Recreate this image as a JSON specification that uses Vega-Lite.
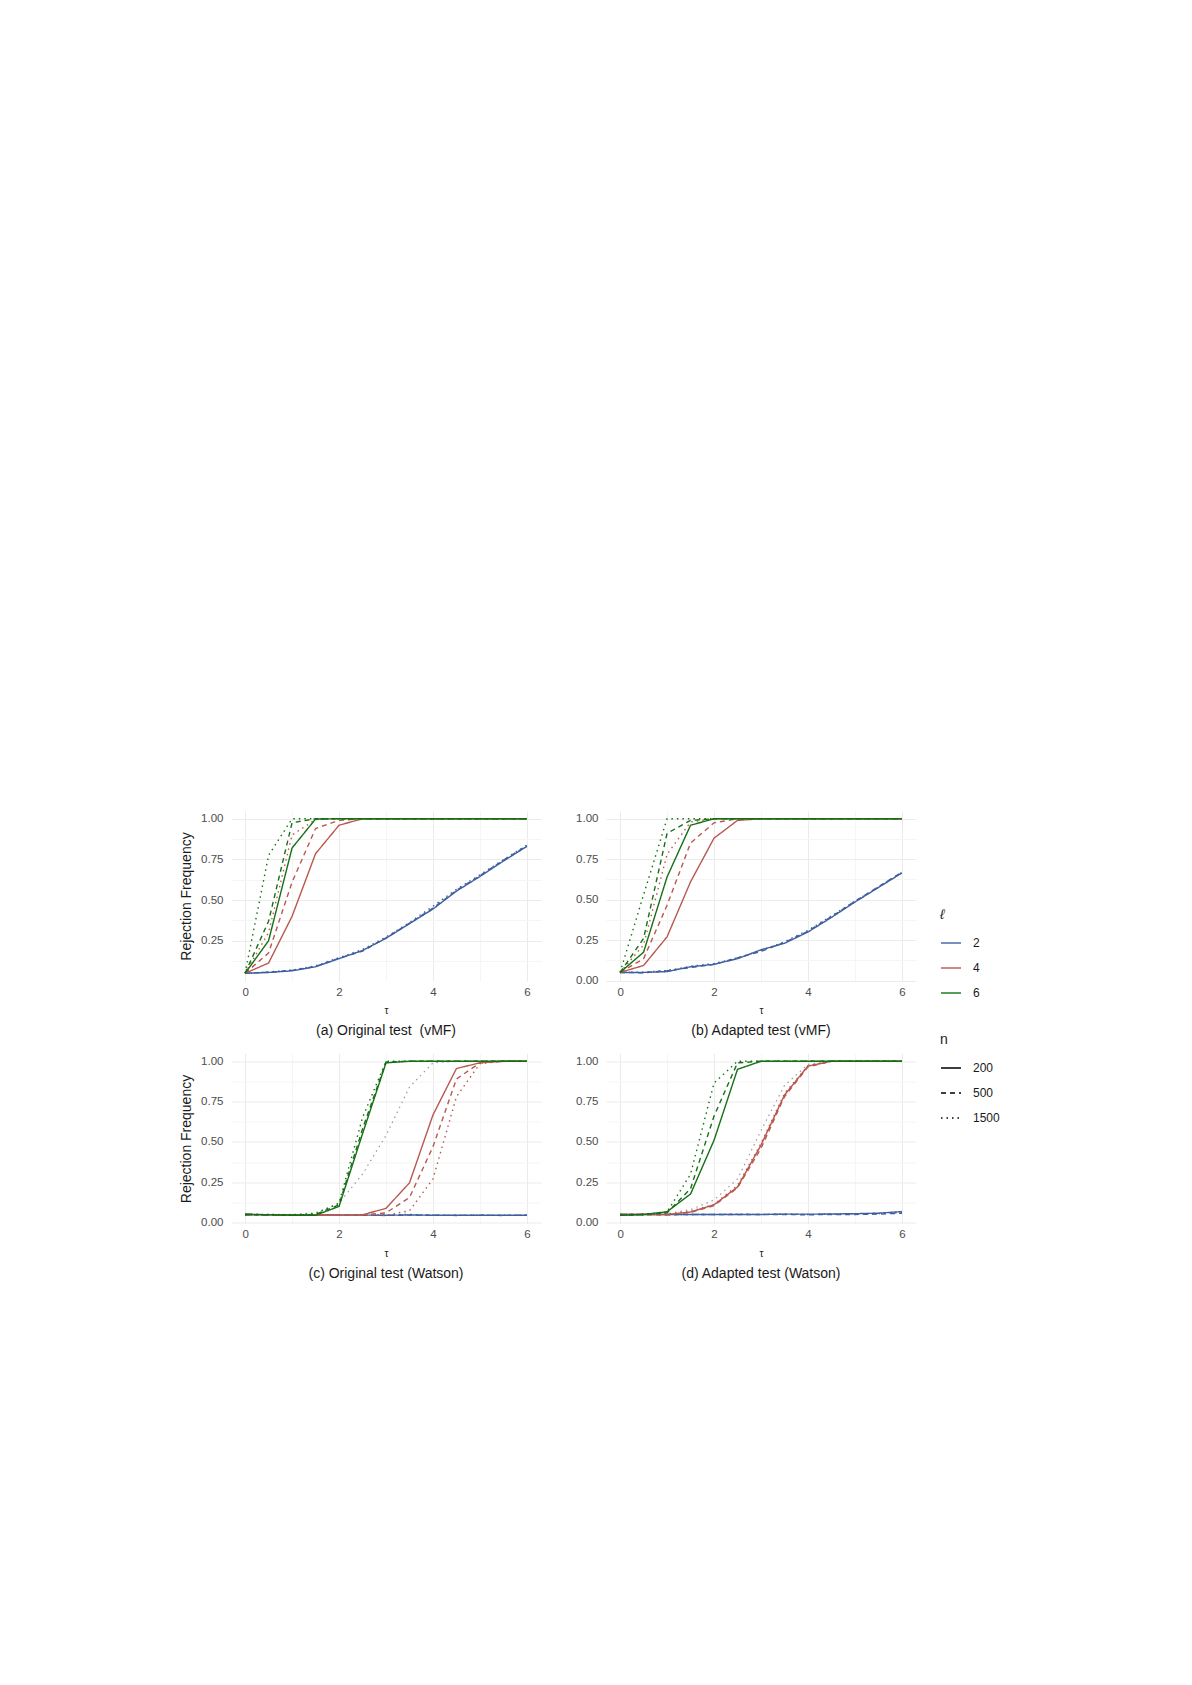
{
  "$schema": "https://vega.github.io/schema/vega-lite/v6.json",
  "background": "white",
  "padding": {"left": 179, "top": 811, "right": 10, "bottom": 10},
  "data": {
    "values": [
      {"p": "a", "l": "2", "n": "200", "t": 0, "v": 0.05}, {"p": "a", "l": "2", "n": "200", "t": 0.5, "v": 0.055}, {"p": "a", "l": "2", "n": "200", "t": 1, "v": 0.065}, {"p": "a", "l": "2", "n": "200", "t": 1.5, "v": 0.09}, {"p": "a", "l": "2", "n": "200", "t": 2, "v": 0.14}, {"p": "a", "l": "2", "n": "200", "t": 2.5, "v": 0.19}, {"p": "a", "l": "2", "n": "200", "t": 3, "v": 0.265}, {"p": "a", "l": "2", "n": "200", "t": 3.5, "v": 0.355}, {"p": "a", "l": "2", "n": "200", "t": 4, "v": 0.445}, {"p": "a", "l": "2", "n": "200", "t": 4.5, "v": 0.555}, {"p": "a", "l": "2", "n": "200", "t": 5, "v": 0.645}, {"p": "a", "l": "2", "n": "200", "t": 5.5, "v": 0.74}, {"p": "a", "l": "2", "n": "200", "t": 6, "v": 0.83},
      {"p": "a", "l": "2", "n": "500", "t": 0, "v": 0.05}, {"p": "a", "l": "2", "n": "500", "t": 0.5, "v": 0.056}, {"p": "a", "l": "2", "n": "500", "t": 1, "v": 0.068}, {"p": "a", "l": "2", "n": "500", "t": 1.5, "v": 0.092}, {"p": "a", "l": "2", "n": "500", "t": 2, "v": 0.143}, {"p": "a", "l": "2", "n": "500", "t": 2.5, "v": 0.186}, {"p": "a", "l": "2", "n": "500", "t": 3, "v": 0.268}, {"p": "a", "l": "2", "n": "500", "t": 3.5, "v": 0.358}, {"p": "a", "l": "2", "n": "500", "t": 4, "v": 0.45}, {"p": "a", "l": "2", "n": "500", "t": 4.5, "v": 0.56}, {"p": "a", "l": "2", "n": "500", "t": 5, "v": 0.65}, {"p": "a", "l": "2", "n": "500", "t": 5.5, "v": 0.745}, {"p": "a", "l": "2", "n": "500", "t": 6, "v": 0.835},
      {"p": "a", "l": "2", "n": "1500", "t": 0, "v": 0.05}, {"p": "a", "l": "2", "n": "1500", "t": 0.5, "v": 0.058}, {"p": "a", "l": "2", "n": "1500", "t": 1, "v": 0.07}, {"p": "a", "l": "2", "n": "1500", "t": 1.5, "v": 0.096}, {"p": "a", "l": "2", "n": "1500", "t": 2, "v": 0.146}, {"p": "a", "l": "2", "n": "1500", "t": 2.5, "v": 0.196}, {"p": "a", "l": "2", "n": "1500", "t": 3, "v": 0.272}, {"p": "a", "l": "2", "n": "1500", "t": 3.5, "v": 0.362}, {"p": "a", "l": "2", "n": "1500", "t": 4, "v": 0.462}, {"p": "a", "l": "2", "n": "1500", "t": 4.5, "v": 0.566}, {"p": "a", "l": "2", "n": "1500", "t": 5, "v": 0.655}, {"p": "a", "l": "2", "n": "1500", "t": 5.5, "v": 0.748}, {"p": "a", "l": "2", "n": "1500", "t": 6, "v": 0.838},
      {"p": "a", "l": "4", "n": "200", "t": 0, "v": 0.05}, {"p": "a", "l": "4", "n": "200", "t": 0.5, "v": 0.113}, {"p": "a", "l": "4", "n": "200", "t": 1, "v": 0.4}, {"p": "a", "l": "4", "n": "200", "t": 1.5, "v": 0.785}, {"p": "a", "l": "4", "n": "200", "t": 2, "v": 0.96}, {"p": "a", "l": "4", "n": "200", "t": 2.5, "v": 1}, {"p": "a", "l": "4", "n": "200", "t": 3, "v": 1}, {"p": "a", "l": "4", "n": "200", "t": 3.5, "v": 1}, {"p": "a", "l": "4", "n": "200", "t": 4, "v": 1}, {"p": "a", "l": "4", "n": "200", "t": 4.5, "v": 1}, {"p": "a", "l": "4", "n": "200", "t": 5, "v": 1}, {"p": "a", "l": "4", "n": "200", "t": 5.5, "v": 1}, {"p": "a", "l": "4", "n": "200", "t": 6, "v": 1},
      {"p": "a", "l": "4", "n": "500", "t": 0, "v": 0.05}, {"p": "a", "l": "4", "n": "500", "t": 0.5, "v": 0.175}, {"p": "a", "l": "4", "n": "500", "t": 1, "v": 0.61}, {"p": "a", "l": "4", "n": "500", "t": 1.5, "v": 0.94}, {"p": "a", "l": "4", "n": "500", "t": 2, "v": 0.99}, {"p": "a", "l": "4", "n": "500", "t": 2.5, "v": 1}, {"p": "a", "l": "4", "n": "500", "t": 3, "v": 1}, {"p": "a", "l": "4", "n": "500", "t": 3.5, "v": 1}, {"p": "a", "l": "4", "n": "500", "t": 4, "v": 1}, {"p": "a", "l": "4", "n": "500", "t": 4.5, "v": 1}, {"p": "a", "l": "4", "n": "500", "t": 5, "v": 1}, {"p": "a", "l": "4", "n": "500", "t": 5.5, "v": 1}, {"p": "a", "l": "4", "n": "500", "t": 6, "v": 1},
      {"p": "a", "l": "4", "n": "1500", "t": 0, "v": 0.05}, {"p": "a", "l": "4", "n": "1500", "t": 0.5, "v": 0.3}, {"p": "a", "l": "4", "n": "1500", "t": 1, "v": 0.9}, {"p": "a", "l": "4", "n": "1500", "t": 1.5, "v": 0.995}, {"p": "a", "l": "4", "n": "1500", "t": 2, "v": 1}, {"p": "a", "l": "4", "n": "1500", "t": 2.5, "v": 1}, {"p": "a", "l": "4", "n": "1500", "t": 3, "v": 1}, {"p": "a", "l": "4", "n": "1500", "t": 3.5, "v": 1}, {"p": "a", "l": "4", "n": "1500", "t": 4, "v": 1}, {"p": "a", "l": "4", "n": "1500", "t": 4.5, "v": 1}, {"p": "a", "l": "4", "n": "1500", "t": 5, "v": 1}, {"p": "a", "l": "4", "n": "1500", "t": 5.5, "v": 1}, {"p": "a", "l": "4", "n": "1500", "t": 6, "v": 1},
      {"p": "a", "l": "6", "n": "200", "t": 0, "v": 0.05}, {"p": "a", "l": "6", "n": "200", "t": 0.5, "v": 0.25}, {"p": "a", "l": "6", "n": "200", "t": 1, "v": 0.82}, {"p": "a", "l": "6", "n": "200", "t": 1.5, "v": 0.998}, {"p": "a", "l": "6", "n": "200", "t": 2, "v": 1}, {"p": "a", "l": "6", "n": "200", "t": 2.5, "v": 1}, {"p": "a", "l": "6", "n": "200", "t": 3, "v": 1}, {"p": "a", "l": "6", "n": "200", "t": 3.5, "v": 1}, {"p": "a", "l": "6", "n": "200", "t": 4, "v": 1}, {"p": "a", "l": "6", "n": "200", "t": 4.5, "v": 1}, {"p": "a", "l": "6", "n": "200", "t": 5, "v": 1}, {"p": "a", "l": "6", "n": "200", "t": 5.5, "v": 1}, {"p": "a", "l": "6", "n": "200", "t": 6, "v": 1},
      {"p": "a", "l": "6", "n": "500", "t": 0, "v": 0.05}, {"p": "a", "l": "6", "n": "500", "t": 0.5, "v": 0.37}, {"p": "a", "l": "6", "n": "500", "t": 1, "v": 0.975}, {"p": "a", "l": "6", "n": "500", "t": 1.5, "v": 1}, {"p": "a", "l": "6", "n": "500", "t": 2, "v": 1}, {"p": "a", "l": "6", "n": "500", "t": 2.5, "v": 1}, {"p": "a", "l": "6", "n": "500", "t": 3, "v": 1}, {"p": "a", "l": "6", "n": "500", "t": 3.5, "v": 1}, {"p": "a", "l": "6", "n": "500", "t": 4, "v": 1}, {"p": "a", "l": "6", "n": "500", "t": 4.5, "v": 1}, {"p": "a", "l": "6", "n": "500", "t": 5, "v": 1}, {"p": "a", "l": "6", "n": "500", "t": 5.5, "v": 1}, {"p": "a", "l": "6", "n": "500", "t": 6, "v": 1},
      {"p": "a", "l": "6", "n": "1500", "t": 0, "v": 0.05}, {"p": "a", "l": "6", "n": "1500", "t": 0.5, "v": 0.775}, {"p": "a", "l": "6", "n": "1500", "t": 1, "v": 1}, {"p": "a", "l": "6", "n": "1500", "t": 1.5, "v": 1}, {"p": "a", "l": "6", "n": "1500", "t": 2, "v": 1}, {"p": "a", "l": "6", "n": "1500", "t": 2.5, "v": 1}, {"p": "a", "l": "6", "n": "1500", "t": 3, "v": 1}, {"p": "a", "l": "6", "n": "1500", "t": 3.5, "v": 1}, {"p": "a", "l": "6", "n": "1500", "t": 4, "v": 1}, {"p": "a", "l": "6", "n": "1500", "t": 4.5, "v": 1}, {"p": "a", "l": "6", "n": "1500", "t": 5, "v": 1}, {"p": "a", "l": "6", "n": "1500", "t": 5.5, "v": 1}, {"p": "a", "l": "6", "n": "1500", "t": 6, "v": 1},

      {"p": "b", "l": "2", "n": "200", "t": 0, "v": 0.05}, {"p": "b", "l": "2", "n": "200", "t": 0.5, "v": 0.05}, {"p": "b", "l": "2", "n": "200", "t": 1, "v": 0.055}, {"p": "b", "l": "2", "n": "200", "t": 1.5, "v": 0.085}, {"p": "b", "l": "2", "n": "200", "t": 2, "v": 0.1}, {"p": "b", "l": "2", "n": "200", "t": 2.5, "v": 0.135}, {"p": "b", "l": "2", "n": "200", "t": 3, "v": 0.19}, {"p": "b", "l": "2", "n": "200", "t": 3.5, "v": 0.23}, {"p": "b", "l": "2", "n": "200", "t": 4, "v": 0.3}, {"p": "b", "l": "2", "n": "200", "t": 4.5, "v": 0.39}, {"p": "b", "l": "2", "n": "200", "t": 5, "v": 0.485}, {"p": "b", "l": "2", "n": "200", "t": 5.5, "v": 0.575}, {"p": "b", "l": "2", "n": "200", "t": 6, "v": 0.665},
      {"p": "b", "l": "2", "n": "500", "t": 0, "v": 0.05}, {"p": "b", "l": "2", "n": "500", "t": 0.5, "v": 0.048}, {"p": "b", "l": "2", "n": "500", "t": 1, "v": 0.06}, {"p": "b", "l": "2", "n": "500", "t": 1.5, "v": 0.08}, {"p": "b", "l": "2", "n": "500", "t": 2, "v": 0.1}, {"p": "b", "l": "2", "n": "500", "t": 2.5, "v": 0.14}, {"p": "b", "l": "2", "n": "500", "t": 3, "v": 0.18}, {"p": "b", "l": "2", "n": "500", "t": 3.5, "v": 0.235}, {"p": "b", "l": "2", "n": "500", "t": 4, "v": 0.305}, {"p": "b", "l": "2", "n": "500", "t": 4.5, "v": 0.395}, {"p": "b", "l": "2", "n": "500", "t": 5, "v": 0.49}, {"p": "b", "l": "2", "n": "500", "t": 5.5, "v": 0.58}, {"p": "b", "l": "2", "n": "500", "t": 6, "v": 0.67},
      {"p": "b", "l": "2", "n": "1500", "t": 0, "v": 0.05}, {"p": "b", "l": "2", "n": "1500", "t": 0.5, "v": 0.052}, {"p": "b", "l": "2", "n": "1500", "t": 1, "v": 0.062}, {"p": "b", "l": "2", "n": "1500", "t": 1.5, "v": 0.088}, {"p": "b", "l": "2", "n": "1500", "t": 2, "v": 0.105}, {"p": "b", "l": "2", "n": "1500", "t": 2.5, "v": 0.14}, {"p": "b", "l": "2", "n": "1500", "t": 3, "v": 0.185}, {"p": "b", "l": "2", "n": "1500", "t": 3.5, "v": 0.24}, {"p": "b", "l": "2", "n": "1500", "t": 4, "v": 0.31}, {"p": "b", "l": "2", "n": "1500", "t": 4.5, "v": 0.4}, {"p": "b", "l": "2", "n": "1500", "t": 5, "v": 0.49}, {"p": "b", "l": "2", "n": "1500", "t": 5.5, "v": 0.578}, {"p": "b", "l": "2", "n": "1500", "t": 6, "v": 0.668},
      {"p": "b", "l": "4", "n": "200", "t": 0, "v": 0.05}, {"p": "b", "l": "4", "n": "200", "t": 0.5, "v": 0.093}, {"p": "b", "l": "4", "n": "200", "t": 1, "v": 0.27}, {"p": "b", "l": "4", "n": "200", "t": 1.5, "v": 0.61}, {"p": "b", "l": "4", "n": "200", "t": 2, "v": 0.88}, {"p": "b", "l": "4", "n": "200", "t": 2.5, "v": 0.99}, {"p": "b", "l": "4", "n": "200", "t": 3, "v": 1}, {"p": "b", "l": "4", "n": "200", "t": 3.5, "v": 1}, {"p": "b", "l": "4", "n": "200", "t": 4, "v": 1}, {"p": "b", "l": "4", "n": "200", "t": 4.5, "v": 1}, {"p": "b", "l": "4", "n": "200", "t": 5, "v": 1}, {"p": "b", "l": "4", "n": "200", "t": 5.5, "v": 1}, {"p": "b", "l": "4", "n": "200", "t": 6, "v": 1},
      {"p": "b", "l": "4", "n": "500", "t": 0, "v": 0.05}, {"p": "b", "l": "4", "n": "500", "t": 0.5, "v": 0.135}, {"p": "b", "l": "4", "n": "500", "t": 1, "v": 0.465}, {"p": "b", "l": "4", "n": "500", "t": 1.5, "v": 0.85}, {"p": "b", "l": "4", "n": "500", "t": 2, "v": 0.975}, {"p": "b", "l": "4", "n": "500", "t": 2.5, "v": 1}, {"p": "b", "l": "4", "n": "500", "t": 3, "v": 1}, {"p": "b", "l": "4", "n": "500", "t": 3.5, "v": 1}, {"p": "b", "l": "4", "n": "500", "t": 4, "v": 1}, {"p": "b", "l": "4", "n": "500", "t": 4.5, "v": 1}, {"p": "b", "l": "4", "n": "500", "t": 5, "v": 1}, {"p": "b", "l": "4", "n": "500", "t": 5.5, "v": 1}, {"p": "b", "l": "4", "n": "500", "t": 6, "v": 1},
      {"p": "b", "l": "4", "n": "1500", "t": 0, "v": 0.05}, {"p": "b", "l": "4", "n": "1500", "t": 0.5, "v": 0.22}, {"p": "b", "l": "4", "n": "1500", "t": 1, "v": 0.78}, {"p": "b", "l": "4", "n": "1500", "t": 1.5, "v": 0.98}, {"p": "b", "l": "4", "n": "1500", "t": 2, "v": 1}, {"p": "b", "l": "4", "n": "1500", "t": 2.5, "v": 1}, {"p": "b", "l": "4", "n": "1500", "t": 3, "v": 1}, {"p": "b", "l": "4", "n": "1500", "t": 3.5, "v": 1}, {"p": "b", "l": "4", "n": "1500", "t": 4, "v": 1}, {"p": "b", "l": "4", "n": "1500", "t": 4.5, "v": 1}, {"p": "b", "l": "4", "n": "1500", "t": 5, "v": 1}, {"p": "b", "l": "4", "n": "1500", "t": 5.5, "v": 1}, {"p": "b", "l": "4", "n": "1500", "t": 6, "v": 1},
      {"p": "b", "l": "6", "n": "200", "t": 0, "v": 0.05}, {"p": "b", "l": "6", "n": "200", "t": 0.5, "v": 0.175}, {"p": "b", "l": "6", "n": "200", "t": 1, "v": 0.64}, {"p": "b", "l": "6", "n": "200", "t": 1.5, "v": 0.96}, {"p": "b", "l": "6", "n": "200", "t": 2, "v": 1}, {"p": "b", "l": "6", "n": "200", "t": 2.5, "v": 1}, {"p": "b", "l": "6", "n": "200", "t": 3, "v": 1}, {"p": "b", "l": "6", "n": "200", "t": 3.5, "v": 1}, {"p": "b", "l": "6", "n": "200", "t": 4, "v": 1}, {"p": "b", "l": "6", "n": "200", "t": 4.5, "v": 1}, {"p": "b", "l": "6", "n": "200", "t": 5, "v": 1}, {"p": "b", "l": "6", "n": "200", "t": 5.5, "v": 1}, {"p": "b", "l": "6", "n": "200", "t": 6, "v": 1},
      {"p": "b", "l": "6", "n": "500", "t": 0, "v": 0.05}, {"p": "b", "l": "6", "n": "500", "t": 0.5, "v": 0.26}, {"p": "b", "l": "6", "n": "500", "t": 1, "v": 0.91}, {"p": "b", "l": "6", "n": "500", "t": 1.5, "v": 0.99}, {"p": "b", "l": "6", "n": "500", "t": 2, "v": 1}, {"p": "b", "l": "6", "n": "500", "t": 2.5, "v": 1}, {"p": "b", "l": "6", "n": "500", "t": 3, "v": 1}, {"p": "b", "l": "6", "n": "500", "t": 3.5, "v": 1}, {"p": "b", "l": "6", "n": "500", "t": 4, "v": 1}, {"p": "b", "l": "6", "n": "500", "t": 4.5, "v": 1}, {"p": "b", "l": "6", "n": "500", "t": 5, "v": 1}, {"p": "b", "l": "6", "n": "500", "t": 5.5, "v": 1}, {"p": "b", "l": "6", "n": "500", "t": 6, "v": 1},
      {"p": "b", "l": "6", "n": "1500", "t": 0, "v": 0.05}, {"p": "b", "l": "6", "n": "1500", "t": 0.5, "v": 0.53}, {"p": "b", "l": "6", "n": "1500", "t": 1, "v": 1}, {"p": "b", "l": "6", "n": "1500", "t": 1.5, "v": 1}, {"p": "b", "l": "6", "n": "1500", "t": 2, "v": 1}, {"p": "b", "l": "6", "n": "1500", "t": 2.5, "v": 1}, {"p": "b", "l": "6", "n": "1500", "t": 3, "v": 1}, {"p": "b", "l": "6", "n": "1500", "t": 3.5, "v": 1}, {"p": "b", "l": "6", "n": "1500", "t": 4, "v": 1}, {"p": "b", "l": "6", "n": "1500", "t": 4.5, "v": 1}, {"p": "b", "l": "6", "n": "1500", "t": 5, "v": 1}, {"p": "b", "l": "6", "n": "1500", "t": 5.5, "v": 1}, {"p": "b", "l": "6", "n": "1500", "t": 6, "v": 1},

      {"p": "c", "l": "2", "n": "200", "t": 0, "v": 0.05}, {"p": "c", "l": "2", "n": "200", "t": 0.5, "v": 0.049}, {"p": "c", "l": "2", "n": "200", "t": 1, "v": 0.048}, {"p": "c", "l": "2", "n": "200", "t": 1.5, "v": 0.047}, {"p": "c", "l": "2", "n": "200", "t": 2, "v": 0.046}, {"p": "c", "l": "2", "n": "200", "t": 2.5, "v": 0.046}, {"p": "c", "l": "2", "n": "200", "t": 3, "v": 0.045}, {"p": "c", "l": "2", "n": "200", "t": 3.5, "v": 0.047}, {"p": "c", "l": "2", "n": "200", "t": 4, "v": 0.045}, {"p": "c", "l": "2", "n": "200", "t": 4.5, "v": 0.045}, {"p": "c", "l": "2", "n": "200", "t": 5, "v": 0.045}, {"p": "c", "l": "2", "n": "200", "t": 5.5, "v": 0.045}, {"p": "c", "l": "2", "n": "200", "t": 6, "v": 0.045},
      {"p": "c", "l": "2", "n": "500", "t": 0, "v": 0.048}, {"p": "c", "l": "2", "n": "500", "t": 0.5, "v": 0.048}, {"p": "c", "l": "2", "n": "500", "t": 1, "v": 0.047}, {"p": "c", "l": "2", "n": "500", "t": 1.5, "v": 0.046}, {"p": "c", "l": "2", "n": "500", "t": 2, "v": 0.046}, {"p": "c", "l": "2", "n": "500", "t": 2.5, "v": 0.045}, {"p": "c", "l": "2", "n": "500", "t": 3, "v": 0.044}, {"p": "c", "l": "2", "n": "500", "t": 3.5, "v": 0.046}, {"p": "c", "l": "2", "n": "500", "t": 4, "v": 0.045}, {"p": "c", "l": "2", "n": "500", "t": 4.5, "v": 0.044}, {"p": "c", "l": "2", "n": "500", "t": 5, "v": 0.045}, {"p": "c", "l": "2", "n": "500", "t": 5.5, "v": 0.044}, {"p": "c", "l": "2", "n": "500", "t": 6, "v": 0.045},
      {"p": "c", "l": "2", "n": "1500", "t": 0, "v": 0.05}, {"p": "c", "l": "2", "n": "1500", "t": 0.5, "v": 0.049}, {"p": "c", "l": "2", "n": "1500", "t": 1, "v": 0.048}, {"p": "c", "l": "2", "n": "1500", "t": 1.5, "v": 0.047}, {"p": "c", "l": "2", "n": "1500", "t": 2, "v": 0.047}, {"p": "c", "l": "2", "n": "1500", "t": 2.5, "v": 0.046}, {"p": "c", "l": "2", "n": "1500", "t": 3, "v": 0.047}, {"p": "c", "l": "2", "n": "1500", "t": 3.5, "v": 0.05}, {"p": "c", "l": "2", "n": "1500", "t": 4, "v": 0.046}, {"p": "c", "l": "2", "n": "1500", "t": 4.5, "v": 0.045}, {"p": "c", "l": "2", "n": "1500", "t": 5, "v": 0.046}, {"p": "c", "l": "2", "n": "1500", "t": 5.5, "v": 0.045}, {"p": "c", "l": "2", "n": "1500", "t": 6, "v": 0.046},
      {"p": "c", "l": "4", "n": "200", "t": 0, "v": 0.05}, {"p": "c", "l": "4", "n": "200", "t": 0.5, "v": 0.048}, {"p": "c", "l": "4", "n": "200", "t": 1, "v": 0.046}, {"p": "c", "l": "4", "n": "200", "t": 1.5, "v": 0.046}, {"p": "c", "l": "4", "n": "200", "t": 2, "v": 0.047}, {"p": "c", "l": "4", "n": "200", "t": 2.5, "v": 0.048}, {"p": "c", "l": "4", "n": "200", "t": 3, "v": 0.088}, {"p": "c", "l": "4", "n": "200", "t": 3.5, "v": 0.246}, {"p": "c", "l": "4", "n": "200", "t": 4, "v": 0.667}, {"p": "c", "l": "4", "n": "200", "t": 4.5, "v": 0.955}, {"p": "c", "l": "4", "n": "200", "t": 5, "v": 0.99}, {"p": "c", "l": "4", "n": "200", "t": 5.5, "v": 1}, {"p": "c", "l": "4", "n": "200", "t": 6, "v": 1},
      {"p": "c", "l": "4", "n": "500", "t": 0, "v": 0.05}, {"p": "c", "l": "4", "n": "500", "t": 0.5, "v": 0.048}, {"p": "c", "l": "4", "n": "500", "t": 1, "v": 0.046}, {"p": "c", "l": "4", "n": "500", "t": 1.5, "v": 0.046}, {"p": "c", "l": "4", "n": "500", "t": 2, "v": 0.046}, {"p": "c", "l": "4", "n": "500", "t": 2.5, "v": 0.046}, {"p": "c", "l": "4", "n": "500", "t": 3, "v": 0.06}, {"p": "c", "l": "4", "n": "500", "t": 3.5, "v": 0.155}, {"p": "c", "l": "4", "n": "500", "t": 4, "v": 0.47}, {"p": "c", "l": "4", "n": "500", "t": 4.5, "v": 0.89}, {"p": "c", "l": "4", "n": "500", "t": 5, "v": 0.99}, {"p": "c", "l": "4", "n": "500", "t": 5.5, "v": 1}, {"p": "c", "l": "4", "n": "500", "t": 6, "v": 1},
      {"p": "c", "l": "4", "n": "1500", "t": 0, "v": 0.05}, {"p": "c", "l": "4", "n": "1500", "t": 0.5, "v": 0.048}, {"p": "c", "l": "4", "n": "1500", "t": 1, "v": 0.046}, {"p": "c", "l": "4", "n": "1500", "t": 1.5, "v": 0.046}, {"p": "c", "l": "4", "n": "1500", "t": 2, "v": 0.046}, {"p": "c", "l": "4", "n": "1500", "t": 2.5, "v": 0.045}, {"p": "c", "l": "4", "n": "1500", "t": 3, "v": 0.045}, {"p": "c", "l": "4", "n": "1500", "t": 3.5, "v": 0.073}, {"p": "c", "l": "4", "n": "1500", "t": 4, "v": 0.27}, {"p": "c", "l": "4", "n": "1500", "t": 4.5, "v": 0.78}, {"p": "c", "l": "4", "n": "1500", "t": 5, "v": 0.985}, {"p": "c", "l": "4", "n": "1500", "t": 5.5, "v": 1}, {"p": "c", "l": "4", "n": "1500", "t": 6, "v": 1},
      {"p": "c", "l": "6", "n": "200", "t": 0, "v": 0.05}, {"p": "c", "l": "6", "n": "200", "t": 0.5, "v": 0.048}, {"p": "c", "l": "6", "n": "200", "t": 1, "v": 0.045}, {"p": "c", "l": "6", "n": "200", "t": 1.5, "v": 0.045}, {"p": "c", "l": "6", "n": "200", "t": 2, "v": 0.1}, {"p": "c", "l": "6", "n": "200", "t": 2.5, "v": 0.55}, {"p": "c", "l": "6", "n": "200", "t": 3, "v": 0.99}, {"p": "c", "l": "6", "n": "200", "t": 3.5, "v": 1}, {"p": "c", "l": "6", "n": "200", "t": 4, "v": 1}, {"p": "c", "l": "6", "n": "200", "t": 4.5, "v": 1}, {"p": "c", "l": "6", "n": "200", "t": 5, "v": 1}, {"p": "c", "l": "6", "n": "200", "t": 5.5, "v": 1}, {"p": "c", "l": "6", "n": "200", "t": 6, "v": 1},
      {"p": "c", "l": "6", "n": "500", "t": 0, "v": 0.05}, {"p": "c", "l": "6", "n": "500", "t": 0.5, "v": 0.048}, {"p": "c", "l": "6", "n": "500", "t": 1, "v": 0.046}, {"p": "c", "l": "6", "n": "500", "t": 1.5, "v": 0.05}, {"p": "c", "l": "6", "n": "500", "t": 2, "v": 0.11}, {"p": "c", "l": "6", "n": "500", "t": 2.5, "v": 0.58}, {"p": "c", "l": "6", "n": "500", "t": 3, "v": 0.995}, {"p": "c", "l": "6", "n": "500", "t": 3.5, "v": 1}, {"p": "c", "l": "6", "n": "500", "t": 4, "v": 1}, {"p": "c", "l": "6", "n": "500", "t": 4.5, "v": 1}, {"p": "c", "l": "6", "n": "500", "t": 5, "v": 1}, {"p": "c", "l": "6", "n": "500", "t": 5.5, "v": 1}, {"p": "c", "l": "6", "n": "500", "t": 6, "v": 1},
      {"p": "c", "l": "6", "n": "1500", "t": 0, "v": 0.05}, {"p": "c", "l": "6", "n": "1500", "t": 0.5, "v": 0.05}, {"p": "c", "l": "6", "n": "1500", "t": 1, "v": 0.048}, {"p": "c", "l": "6", "n": "1500", "t": 1.5, "v": 0.055}, {"p": "c", "l": "6", "n": "1500", "t": 2, "v": 0.12}, {"p": "c", "l": "6", "n": "1500", "t": 2.5, "v": 0.65}, {"p": "c", "l": "6", "n": "1500", "t": 3, "v": 1}, {"p": "c", "l": "6", "n": "1500", "t": 3.5, "v": 1}, {"p": "c", "l": "6", "n": "1500", "t": 4, "v": 1}, {"p": "c", "l": "6", "n": "1500", "t": 4.5, "v": 1}, {"p": "c", "l": "6", "n": "1500", "t": 5, "v": 1}, {"p": "c", "l": "6", "n": "1500", "t": 5.5, "v": 1}, {"p": "c", "l": "6", "n": "1500", "t": 6, "v": 1},
      {"p": "c", "l": "ref", "n": "1500", "t": 0, "v": 0.05}, {"p": "c", "l": "ref", "n": "1500", "t": 0.5, "v": 0.05}, {"p": "c", "l": "ref", "n": "1500", "t": 1, "v": 0.05}, {"p": "c", "l": "ref", "n": "1500", "t": 1.5, "v": 0.06}, {"p": "c", "l": "ref", "n": "1500", "t": 2, "v": 0.12}, {"p": "c", "l": "ref", "n": "1500", "t": 2.5, "v": 0.3}, {"p": "c", "l": "ref", "n": "1500", "t": 3, "v": 0.54}, {"p": "c", "l": "ref", "n": "1500", "t": 3.5, "v": 0.84}, {"p": "c", "l": "ref", "n": "1500", "t": 4, "v": 0.99}, {"p": "c", "l": "ref", "n": "1500", "t": 4.5, "v": 1}, {"p": "c", "l": "ref", "n": "1500", "t": 5, "v": 1}, {"p": "c", "l": "ref", "n": "1500", "t": 5.5, "v": 1}, {"p": "c", "l": "ref", "n": "1500", "t": 6, "v": 1},

      {"p": "d", "l": "2", "n": "200", "t": 0, "v": 0.05}, {"p": "d", "l": "2", "n": "200", "t": 0.5, "v": 0.05}, {"p": "d", "l": "2", "n": "200", "t": 1, "v": 0.05}, {"p": "d", "l": "2", "n": "200", "t": 1.5, "v": 0.05}, {"p": "d", "l": "2", "n": "200", "t": 2, "v": 0.05}, {"p": "d", "l": "2", "n": "200", "t": 2.5, "v": 0.05}, {"p": "d", "l": "2", "n": "200", "t": 3, "v": 0.05}, {"p": "d", "l": "2", "n": "200", "t": 3.5, "v": 0.052}, {"p": "d", "l": "2", "n": "200", "t": 4, "v": 0.052}, {"p": "d", "l": "2", "n": "200", "t": 4.5, "v": 0.053}, {"p": "d", "l": "2", "n": "200", "t": 5, "v": 0.055}, {"p": "d", "l": "2", "n": "200", "t": 5.5, "v": 0.058}, {"p": "d", "l": "2", "n": "200", "t": 6, "v": 0.068},
      {"p": "d", "l": "2", "n": "500", "t": 0, "v": 0.05}, {"p": "d", "l": "2", "n": "500", "t": 0.5, "v": 0.05}, {"p": "d", "l": "2", "n": "500", "t": 1, "v": 0.048}, {"p": "d", "l": "2", "n": "500", "t": 1.5, "v": 0.05}, {"p": "d", "l": "2", "n": "500", "t": 2, "v": 0.05}, {"p": "d", "l": "2", "n": "500", "t": 2.5, "v": 0.05}, {"p": "d", "l": "2", "n": "500", "t": 3, "v": 0.05}, {"p": "d", "l": "2", "n": "500", "t": 3.5, "v": 0.05}, {"p": "d", "l": "2", "n": "500", "t": 4, "v": 0.048}, {"p": "d", "l": "2", "n": "500", "t": 4.5, "v": 0.05}, {"p": "d", "l": "2", "n": "500", "t": 5, "v": 0.05}, {"p": "d", "l": "2", "n": "500", "t": 5.5, "v": 0.052}, {"p": "d", "l": "2", "n": "500", "t": 6, "v": 0.058},
      {"p": "d", "l": "2", "n": "1500", "t": 0, "v": 0.05}, {"p": "d", "l": "2", "n": "1500", "t": 0.5, "v": 0.05}, {"p": "d", "l": "2", "n": "1500", "t": 1, "v": 0.05}, {"p": "d", "l": "2", "n": "1500", "t": 1.5, "v": 0.05}, {"p": "d", "l": "2", "n": "1500", "t": 2, "v": 0.05}, {"p": "d", "l": "2", "n": "1500", "t": 2.5, "v": 0.052}, {"p": "d", "l": "2", "n": "1500", "t": 3, "v": 0.05}, {"p": "d", "l": "2", "n": "1500", "t": 3.5, "v": 0.053}, {"p": "d", "l": "2", "n": "1500", "t": 4, "v": 0.05}, {"p": "d", "l": "2", "n": "1500", "t": 4.5, "v": 0.052}, {"p": "d", "l": "2", "n": "1500", "t": 5, "v": 0.055}, {"p": "d", "l": "2", "n": "1500", "t": 5.5, "v": 0.056}, {"p": "d", "l": "2", "n": "1500", "t": 6, "v": 0.062},
      {"p": "d", "l": "4", "n": "200", "t": 0, "v": 0.05}, {"p": "d", "l": "4", "n": "200", "t": 0.5, "v": 0.05}, {"p": "d", "l": "4", "n": "200", "t": 1, "v": 0.05}, {"p": "d", "l": "4", "n": "200", "t": 1.5, "v": 0.065}, {"p": "d", "l": "4", "n": "200", "t": 2, "v": 0.11}, {"p": "d", "l": "4", "n": "200", "t": 2.5, "v": 0.22}, {"p": "d", "l": "4", "n": "200", "t": 3, "v": 0.48}, {"p": "d", "l": "4", "n": "200", "t": 3.5, "v": 0.79}, {"p": "d", "l": "4", "n": "200", "t": 4, "v": 0.97}, {"p": "d", "l": "4", "n": "200", "t": 4.5, "v": 1}, {"p": "d", "l": "4", "n": "200", "t": 5, "v": 1}, {"p": "d", "l": "4", "n": "200", "t": 5.5, "v": 1}, {"p": "d", "l": "4", "n": "200", "t": 6, "v": 1},
      {"p": "d", "l": "4", "n": "500", "t": 0, "v": 0.05}, {"p": "d", "l": "4", "n": "500", "t": 0.5, "v": 0.05}, {"p": "d", "l": "4", "n": "500", "t": 1, "v": 0.05}, {"p": "d", "l": "4", "n": "500", "t": 1.5, "v": 0.063}, {"p": "d", "l": "4", "n": "500", "t": 2, "v": 0.105}, {"p": "d", "l": "4", "n": "500", "t": 2.5, "v": 0.215}, {"p": "d", "l": "4", "n": "500", "t": 3, "v": 0.46}, {"p": "d", "l": "4", "n": "500", "t": 3.5, "v": 0.78}, {"p": "d", "l": "4", "n": "500", "t": 4, "v": 0.965}, {"p": "d", "l": "4", "n": "500", "t": 4.5, "v": 1}, {"p": "d", "l": "4", "n": "500", "t": 5, "v": 1}, {"p": "d", "l": "4", "n": "500", "t": 5.5, "v": 1}, {"p": "d", "l": "4", "n": "500", "t": 6, "v": 1},
      {"p": "d", "l": "4", "n": "1500", "t": 0, "v": 0.05}, {"p": "d", "l": "4", "n": "1500", "t": 0.5, "v": 0.05}, {"p": "d", "l": "4", "n": "1500", "t": 1, "v": 0.052}, {"p": "d", "l": "4", "n": "1500", "t": 1.5, "v": 0.07}, {"p": "d", "l": "4", "n": "1500", "t": 2, "v": 0.112}, {"p": "d", "l": "4", "n": "1500", "t": 2.5, "v": 0.23}, {"p": "d", "l": "4", "n": "1500", "t": 3, "v": 0.49}, {"p": "d", "l": "4", "n": "1500", "t": 3.5, "v": 0.8}, {"p": "d", "l": "4", "n": "1500", "t": 4, "v": 0.972}, {"p": "d", "l": "4", "n": "1500", "t": 4.5, "v": 1}, {"p": "d", "l": "4", "n": "1500", "t": 5, "v": 1}, {"p": "d", "l": "4", "n": "1500", "t": 5.5, "v": 1}, {"p": "d", "l": "4", "n": "1500", "t": 6, "v": 1},
      {"p": "d", "l": "6", "n": "200", "t": 0, "v": 0.045}, {"p": "d", "l": "6", "n": "200", "t": 0.5, "v": 0.05}, {"p": "d", "l": "6", "n": "200", "t": 1, "v": 0.067}, {"p": "d", "l": "6", "n": "200", "t": 1.5, "v": 0.177}, {"p": "d", "l": "6", "n": "200", "t": 2, "v": 0.51}, {"p": "d", "l": "6", "n": "200", "t": 2.5, "v": 0.95}, {"p": "d", "l": "6", "n": "200", "t": 3, "v": 1}, {"p": "d", "l": "6", "n": "200", "t": 3.5, "v": 1}, {"p": "d", "l": "6", "n": "200", "t": 4, "v": 1}, {"p": "d", "l": "6", "n": "200", "t": 4.5, "v": 1}, {"p": "d", "l": "6", "n": "200", "t": 5, "v": 1}, {"p": "d", "l": "6", "n": "200", "t": 5.5, "v": 1}, {"p": "d", "l": "6", "n": "200", "t": 6, "v": 1},
      {"p": "d", "l": "6", "n": "500", "t": 0, "v": 0.045}, {"p": "d", "l": "6", "n": "500", "t": 0.5, "v": 0.05}, {"p": "d", "l": "6", "n": "500", "t": 1, "v": 0.06}, {"p": "d", "l": "6", "n": "500", "t": 1.5, "v": 0.21}, {"p": "d", "l": "6", "n": "500", "t": 2, "v": 0.66}, {"p": "d", "l": "6", "n": "500", "t": 2.5, "v": 0.99}, {"p": "d", "l": "6", "n": "500", "t": 3, "v": 1}, {"p": "d", "l": "6", "n": "500", "t": 3.5, "v": 1}, {"p": "d", "l": "6", "n": "500", "t": 4, "v": 1}, {"p": "d", "l": "6", "n": "500", "t": 4.5, "v": 1}, {"p": "d", "l": "6", "n": "500", "t": 5, "v": 1}, {"p": "d", "l": "6", "n": "500", "t": 5.5, "v": 1}, {"p": "d", "l": "6", "n": "500", "t": 6, "v": 1},
      {"p": "d", "l": "6", "n": "1500", "t": 0, "v": 0.045}, {"p": "d", "l": "6", "n": "1500", "t": 0.5, "v": 0.05}, {"p": "d", "l": "6", "n": "1500", "t": 1, "v": 0.065}, {"p": "d", "l": "6", "n": "1500", "t": 1.5, "v": 0.3}, {"p": "d", "l": "6", "n": "1500", "t": 2, "v": 0.865}, {"p": "d", "l": "6", "n": "1500", "t": 2.5, "v": 1}, {"p": "d", "l": "6", "n": "1500", "t": 3, "v": 1}, {"p": "d", "l": "6", "n": "1500", "t": 3.5, "v": 1}, {"p": "d", "l": "6", "n": "1500", "t": 4, "v": 1}, {"p": "d", "l": "6", "n": "1500", "t": 4.5, "v": 1}, {"p": "d", "l": "6", "n": "1500", "t": 5, "v": 1}, {"p": "d", "l": "6", "n": "1500", "t": 5.5, "v": 1}, {"p": "d", "l": "6", "n": "1500", "t": 6, "v": 1},
      {"p": "d", "l": "ref", "n": "1500", "t": 0, "v": 0.05}, {"p": "d", "l": "ref", "n": "1500", "t": 0.5, "v": 0.05}, {"p": "d", "l": "ref", "n": "1500", "t": 1, "v": 0.055}, {"p": "d", "l": "ref", "n": "1500", "t": 1.5, "v": 0.08}, {"p": "d", "l": "ref", "n": "1500", "t": 2, "v": 0.14}, {"p": "d", "l": "ref", "n": "1500", "t": 2.5, "v": 0.27}, {"p": "d", "l": "ref", "n": "1500", "t": 3, "v": 0.57}, {"p": "d", "l": "ref", "n": "1500", "t": 3.5, "v": 0.85}, {"p": "d", "l": "ref", "n": "1500", "t": 4, "v": 0.98}, {"p": "d", "l": "ref", "n": "1500", "t": 4.5, "v": 1}, {"p": "d", "l": "ref", "n": "1500", "t": 5, "v": 1}, {"p": "d", "l": "ref", "n": "1500", "t": 5.5, "v": 1}, {"p": "d", "l": "ref", "n": "1500", "t": 6, "v": 1}
    ]
  },
  "vconcat": [
    {
      "hconcat": [
        {
          "width": 310, "height": 170,
          "title": {"text": "(a) Original test \u00a0(vMF)"},
          "transform": [{"filter": "datum.p === 'a'"}],
          "encoding": {
            "x": {"field": "t", "type": "quantitative", "scale": {"domain": [-0.3, 6.3], "nice": false, "zero": false},
              "axis": {"title": "τ", "values": [0, 1, 2, 3, 4, 5, 6], "labelExpr": "datum.value % 2 === 0 ? datum.label : ''", "gridColor": {"condition": {"test": "datum.value % 2 === 1", "value": "#f5f5f5"}, "value": "#ebebeb"}}},
            "y": {"field": "v", "type": "quantitative", "scale": {"domain": [0.0025, 1.0475], "nice": false, "zero": false},
              "axis": {"title": "Rejection Frequency", "values": [0.125, 0.25, 0.375, 0.5, 0.625, 0.75, 0.875, 1], "format": ".2f", "labelExpr": "(datum.value * 4) % 1 === 0 ? datum.label : ''", "gridColor": {"condition": {"test": "(datum.value * 4) % 1 !== 0", "value": "#f5f5f5"}, "value": "#ebebeb"}}}
          },
          "layer": [
            {
              "transform": [{"filter": "datum.l !== 'ref'"}],
              "mark": {"type": "line", "strokeWidth": 1.4, "strokeCap": "butt"},
              "encoding": {
                "color": {"field": "l", "type": "nominal", "title": "ℓ", "scale": {"domain": ["2", "4", "6"], "range": ["#3f5f9f", "#b8584f", "#157015"]},
                  "legend": {"orient": "none", "legendX": 709, "legendY": 97, "titleFontStyle": "italic"}},
                "strokeDash": {"field": "n", "type": "nominal", "title": "n", "scale": {"domain": ["200", "500", "1500"], "range": [[1, 0], [5, 4], [1.5, 4]]},
                  "legend": {"orient": "none", "legendX": 709, "legendY": 222, "symbolStrokeColor": "#000000"}}
              }
            }
          ]
        },
        {
          "width": 310, "height": 170,
          "title": {"text": "(b) Adapted test (vMF)"},
          "transform": [{"filter": "datum.p === 'b'"}],
          "encoding": {
            "x": {"field": "t", "type": "quantitative", "scale": {"domain": [-0.3, 6.3], "nice": false, "zero": false},
              "axis": {"title": "τ", "values": [0, 1, 2, 3, 4, 5, 6], "labelExpr": "datum.value % 2 === 0 ? datum.label : ''", "gridColor": {"condition": {"test": "datum.value % 2 === 1", "value": "#f5f5f5"}, "value": "#ebebeb"}}},
            "y": {"field": "v", "type": "quantitative", "scale": {"domain": [-0.003, 1.048], "nice": false, "zero": false},
              "axis": {"title": null, "values": [0, 0.125, 0.25, 0.375, 0.5, 0.625, 0.75, 0.875, 1], "format": ".2f", "labelExpr": "(datum.value * 4) % 1 === 0 ? datum.label : ''", "gridColor": {"condition": {"test": "(datum.value * 4) % 1 !== 0", "value": "#f5f5f5"}, "value": "#ebebeb"}}}
          },
          "layer": [
            {
              "transform": [{"filter": "datum.l !== 'ref'"}],
              "mark": {"type": "line", "strokeWidth": 1.4, "strokeCap": "butt"},
              "encoding": {
                "color": {"field": "l", "type": "nominal", "title": "ℓ", "scale": {"domain": ["2", "4", "6"], "range": ["#3f5f9f", "#b8584f", "#157015"]},
                  "legend": {"orient": "none", "legendX": 709, "legendY": 97, "titleFontStyle": "italic"}},
                "strokeDash": {"field": "n", "type": "nominal", "title": "n", "scale": {"domain": ["200", "500", "1500"], "range": [[1, 0], [5, 4], [1.5, 4]]},
                  "legend": {"orient": "none", "legendX": 709, "legendY": 222, "symbolStrokeColor": "#000000"}}
              }
            }
          ]
        }
      ]
    },
    {
      "hconcat": [
        {
          "width": 310, "height": 170,
          "title": {"text": "(c) Original test (Watson)"},
          "transform": [{"filter": "datum.p === 'c'"}],
          "encoding": {
            "x": {"field": "t", "type": "quantitative", "scale": {"domain": [-0.3, 6.3], "nice": false, "zero": false},
              "axis": {"title": "τ", "values": [0, 1, 2, 3, 4, 5, 6], "labelExpr": "datum.value % 2 === 0 ? datum.label : ''", "gridColor": {"condition": {"test": "datum.value % 2 === 1", "value": "#f5f5f5"}, "value": "#ebebeb"}}},
            "y": {"field": "v", "type": "quantitative", "scale": {"domain": [-0.006, 1.048], "nice": false, "zero": false},
              "axis": {"title": "Rejection Frequency", "values": [0, 0.125, 0.25, 0.375, 0.5, 0.625, 0.75, 0.875, 1], "format": ".2f", "labelExpr": "(datum.value * 4) % 1 === 0 ? datum.label : ''", "gridColor": {"condition": {"test": "(datum.value * 4) % 1 !== 0", "value": "#f5f5f5"}, "value": "#ebebeb"}}}
          },
          "layer": [
            {
              "transform": [{"filter": "datum.l === 'ref'"}],
              "mark": {"type": "line", "strokeWidth": 1.2, "strokeCap": "butt", "color": "#9a9a9a", "strokeDash": [1.5, 4]}
            },
            {
              "transform": [{"filter": "datum.l !== 'ref'"}],
              "mark": {"type": "line", "strokeWidth": 1.4, "strokeCap": "butt"},
              "encoding": {
                "color": {"field": "l", "type": "nominal", "title": "ℓ", "scale": {"domain": ["2", "4", "6"], "range": ["#3f5f9f", "#b8584f", "#157015"]},
                  "legend": {"orient": "none", "legendX": 709, "legendY": 97, "titleFontStyle": "italic"}},
                "strokeDash": {"field": "n", "type": "nominal", "title": "n", "scale": {"domain": ["200", "500", "1500"], "range": [[1, 0], [5, 4], [1.5, 4]]},
                  "legend": {"orient": "none", "legendX": 709, "legendY": 222, "symbolStrokeColor": "#000000"}}
              }
            }
          ]
        },
        {
          "width": 310, "height": 170,
          "title": {"text": "(d) Adapted test (Watson)"},
          "transform": [{"filter": "datum.p === 'd'"}],
          "encoding": {
            "x": {"field": "t", "type": "quantitative", "scale": {"domain": [-0.3, 6.3], "nice": false, "zero": false},
              "axis": {"title": "τ", "values": [0, 1, 2, 3, 4, 5, 6], "labelExpr": "datum.value % 2 === 0 ? datum.label : ''", "gridColor": {"condition": {"test": "datum.value % 2 === 1", "value": "#f5f5f5"}, "value": "#ebebeb"}}},
            "y": {"field": "v", "type": "quantitative", "scale": {"domain": [-0.006, 1.048], "nice": false, "zero": false},
              "axis": {"title": null, "values": [0, 0.125, 0.25, 0.375, 0.5, 0.625, 0.75, 0.875, 1], "format": ".2f", "labelExpr": "(datum.value * 4) % 1 === 0 ? datum.label : ''", "gridColor": {"condition": {"test": "(datum.value * 4) % 1 !== 0", "value": "#f5f5f5"}, "value": "#ebebeb"}}}
          },
          "layer": [
            {
              "transform": [{"filter": "datum.l === 'ref'"}],
              "mark": {"type": "line", "strokeWidth": 1.2, "strokeCap": "butt", "color": "#9a9a9a", "strokeDash": [1.5, 4]}
            },
            {
              "transform": [{"filter": "datum.l !== 'ref'"}],
              "mark": {"type": "line", "strokeWidth": 1.4, "strokeCap": "butt"},
              "encoding": {
                "color": {"field": "l", "type": "nominal", "title": "ℓ", "scale": {"domain": ["2", "4", "6"], "range": ["#3f5f9f", "#b8584f", "#157015"]},
                  "legend": {"orient": "none", "legendX": 709, "legendY": 97, "titleFontStyle": "italic"}},
                "strokeDash": {"field": "n", "type": "nominal", "title": "n", "scale": {"domain": ["200", "500", "1500"], "range": [[1, 0], [5, 4], [1.5, 4]]},
                  "legend": {"orient": "none", "legendX": 709, "legendY": 222, "symbolStrokeColor": "#000000"}}
              }
            }
          ]
        }
      ]
    }
  ],
  "spacing": 15.5,
  "resolve": {"scale": {"x": "independent", "y": "independent", "color": "shared", "strokeDash": "shared"}},
  "config": {
    "font": "Liberation Sans",
    "view": {"stroke": null},
    "concat": {"spacing": 34},
    "axis": {"domain": false, "ticks": false, "labelColor": "#4d4d4d", "labelFontSize": 11.5, "titleFontSize": 14, "titleFontWeight": "normal", "titleColor": "#1a1a1a", "gridWidth": 1},
    "axisX": {"titleFontSize": 10, "titlePadding": 8, "labelPadding": 5},
    "axisY": {"titlePadding": 7, "labelPadding": 8},
    "title": {"fontSize": 14, "fontWeight": "normal", "color": "#1a1a1a", "orient": "bottom", "offset": 8.5, "frame": "group"},
    "legend": {"titleFontSize": 14, "titleFontWeight": "normal", "titleColor": "#1a1a1a", "labelFontSize": 12, "labelColor": "#1a1a1a", "symbolType": "stroke", "symbolSize": 400, "symbolStrokeWidth": 1.4, "rowPadding": 8, "titlePadding": 10, "labelOffset": 11}
  }
}
